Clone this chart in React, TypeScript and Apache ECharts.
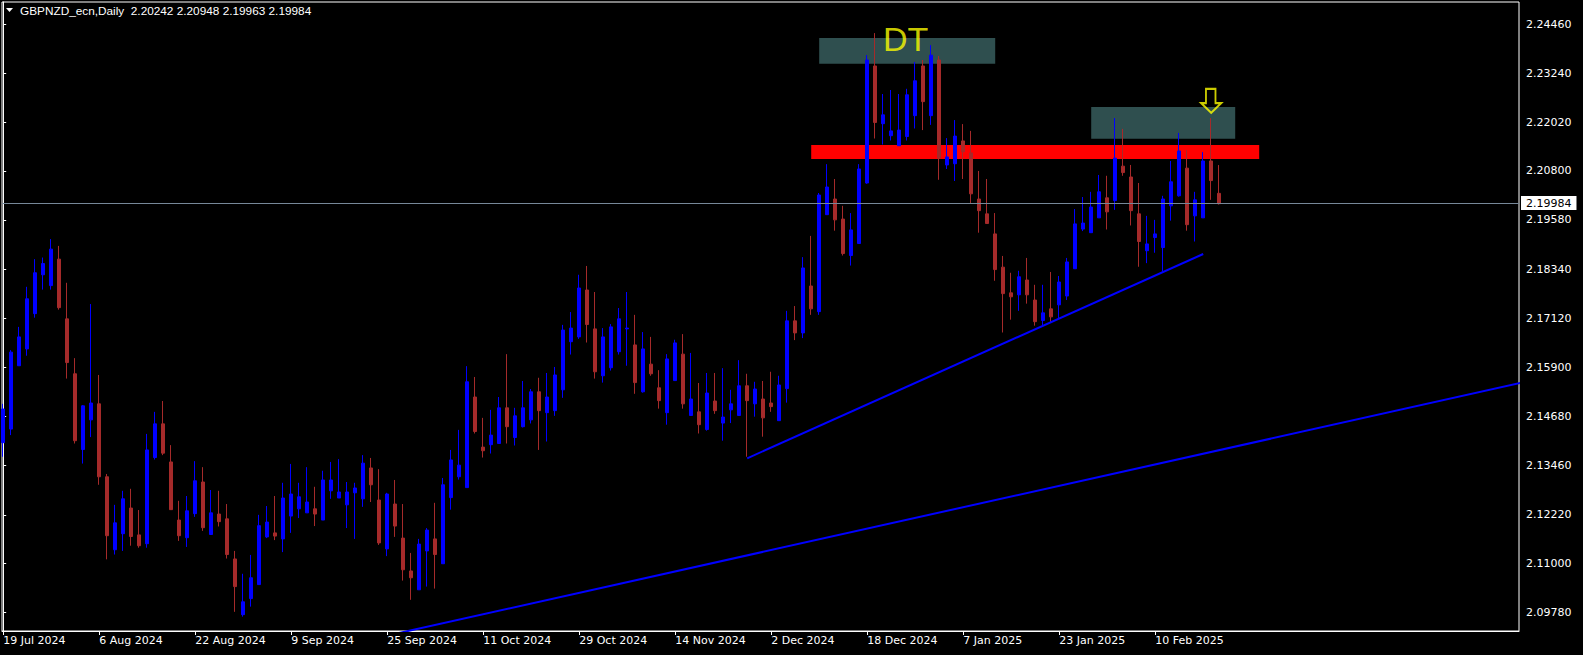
import React, { useEffect, useRef } from "react";
import * as echarts from "echarts";

const symbolTitle = "GBPNZD_ecn,Daily";
// last bar quote: open, high, low, close
const lastQuote = [2.20242, 2.20948, 2.19963, 2.19984];

const dateTickLabels = [
  "19 Jul 2024", "6 Aug 2024", "22 Aug 2024", "9 Sep 2024", "25 Sep 2024",
  "11 Oct 2024", "29 Oct 2024", "14 Nov 2024", "2 Dec 2024", "18 Dec 2024",
  "7 Jan 2025", "23 Jan 2025", "10 Feb 2025",
];
const barsPerDateTick = 12;

const priceTicks = [
  2.2446, 2.2324, 2.2202, 2.208, 2.1958, 2.1834, 2.1712,
  2.159, 2.1468, 2.1346, 2.1222, 2.11, 2.0978,
];

// daily bars: [open, close, low, high]
const ohlc: number[][] = [
  [2.1402, 2.1486, 2.1367, 2.1499], [2.1436, 2.1628, 2.1421, 2.1633], [2.1594, 2.1666, 2.1594, 2.1691],
  [2.1636, 2.1761, 2.1619, 2.1791], [2.1724, 2.1826, 2.1714, 2.1860], [2.1821, 2.1849, 2.1784, 2.1864],
  [2.1794, 2.1885, 2.1784, 2.1910], [2.1860, 2.1739, 2.1734, 2.1893], [2.1711, 2.1602, 2.1562, 2.1801],
  [2.1574, 2.1407, 2.1400, 2.1613], [2.1385, 2.1494, 2.1350, 2.1496], [2.1459, 2.1501, 2.1416, 2.1748],
  [2.1499, 2.1317, 2.1297, 2.1571], [2.1317, 2.1170, 2.1111, 2.1324], [2.1135, 2.1202, 2.1123, 2.1247],
  [2.1175, 2.1262, 2.1132, 2.1282], [2.1239, 2.1168, 2.1145, 2.1287], [2.1172, 2.1145, 2.1140, 2.1234],
  [2.1150, 2.1384, 2.1140, 2.1424], [2.1365, 2.1449, 2.1360, 2.1479], [2.1449, 2.1376, 2.1371, 2.1506],
  [2.1354, 2.1235, 2.1235, 2.1396], [2.1209, 2.1170, 2.1157, 2.1257], [2.1165, 2.1232, 2.1142, 2.1269],
  [2.1225, 2.1307, 2.1217, 2.1356], [2.1304, 2.1190, 2.1182, 2.1341], [2.1173, 2.1227, 2.1173, 2.1284],
  [2.1224, 2.1205, 2.1193, 2.1282], [2.1212, 2.1123, 2.1113, 2.1249], [2.1112, 2.1043, 2.0980, 2.1132],
  [2.0973, 2.1005, 2.0968, 2.1075], [2.1013, 2.1065, 2.0993, 2.1122], [2.1048, 2.1195, 2.1048, 2.1222],
  [2.1167, 2.1204, 2.1164, 2.1244], [2.1177, 2.1169, 2.1159, 2.1269], [2.1162, 2.1264, 2.1129, 2.1302],
  [2.1219, 2.1274, 2.1177, 2.1349], [2.1237, 2.1267, 2.1214, 2.1302], [2.1227, 2.1254, 2.1227, 2.1341],
  [2.1237, 2.1224, 2.1194, 2.1292], [2.1209, 2.1309, 2.1209, 2.1332], [2.1282, 2.1309, 2.1262, 2.1354],
  [2.1264, 2.1279, 2.1264, 2.1361], [2.1247, 2.1279, 2.1189, 2.1304], [2.1277, 2.1289, 2.1162, 2.1302],
  [2.1262, 2.1351, 2.1242, 2.1371], [2.1339, 2.1297, 2.1254, 2.1364], [2.1259, 2.1152, 2.1147, 2.1336],
  [2.1137, 2.1274, 2.1119, 2.1277], [2.1249, 2.1194, 2.1167, 2.1309], [2.1164, 2.1085, 2.1058, 2.1249],
  [2.1082, 2.1065, 2.1010, 2.1127], [2.1035, 2.1149, 2.1035, 2.1162], [2.1132, 2.1184, 2.1043, 2.1189],
  [2.1162, 2.1123, 2.1038, 2.1252], [2.1100, 2.1297, 2.1100, 2.1314], [2.1265, 2.1359, 2.1235, 2.1384],
  [2.1317, 2.1346, 2.1310, 2.1434], [2.1290, 2.1554, 2.1290, 2.1593], [2.1516, 2.1430, 2.1425, 2.1566],
  [2.1391, 2.1382, 2.1365, 2.1464], [2.1397, 2.1421, 2.1375, 2.1484], [2.1400, 2.1489, 2.1400, 2.1516],
  [2.1489, 2.1442, 2.1400, 2.1623], [2.1415, 2.1469, 2.1395, 2.1489], [2.1442, 2.1489, 2.1440, 2.1556],
  [2.1459, 2.1529, 2.1450, 2.1536], [2.1529, 2.1482, 2.1384, 2.1564], [2.1477, 2.1516, 2.1405, 2.1576],
  [2.1482, 2.1571, 2.1469, 2.1591], [2.1534, 2.1683, 2.1514, 2.1696], [2.1654, 2.1688, 2.1622, 2.1728],
  [2.1666, 2.1788, 2.1661, 2.1821], [2.1783, 2.1697, 2.1652, 2.1843], [2.1686, 2.1579, 2.1562, 2.1778],
  [2.1569, 2.1666, 2.1552, 2.1688], [2.1589, 2.1691, 2.1582, 2.1698], [2.1629, 2.1711, 2.1622, 2.1738],
  [2.1686, 2.1688, 2.1594, 2.1778], [2.1646, 2.1552, 2.1524, 2.1721], [2.1529, 2.1636, 2.1527, 2.1678],
  [2.1598, 2.1574, 2.1569, 2.1666], [2.1539, 2.1507, 2.1487, 2.1583], [2.1477, 2.1611, 2.1447, 2.1623],
  [2.1557, 2.1651, 2.1557, 2.1659], [2.1623, 2.1499, 2.1487, 2.1673], [2.1470, 2.1511, 2.1470, 2.1626],
  [2.1479, 2.1447, 2.1425, 2.1551], [2.1435, 2.1526, 2.1432, 2.1576], [2.1506, 2.1482, 2.1474, 2.1576],
  [2.1451, 2.1466, 2.1407, 2.1588], [2.1484, 2.1499, 2.1451, 2.1534], [2.1470, 2.1544, 2.1470, 2.1608],
  [2.1544, 2.1507, 2.1367, 2.1574], [2.1499, 2.1536, 2.1467, 2.1554], [2.1511, 2.1464, 2.1417, 2.1556],
  [2.1501, 2.1492, 2.1479, 2.1579], [2.1457, 2.1546, 2.1457, 2.1569], [2.1537, 2.1706, 2.1502, 2.1731],
  [2.1706, 2.1676, 2.1658, 2.1743], [2.1676, 2.1838, 2.1663, 2.1865], [2.1793, 2.1736, 2.1721, 2.1918],
  [2.1729, 2.2020, 2.1721, 2.2025], [2.1971, 2.2040, 2.1971, 2.2097], [2.2010, 2.1958, 2.1931, 2.2060],
  [2.1960, 2.1874, 2.1869, 2.1993], [2.1869, 2.1933, 2.1844, 2.1975], [2.1899, 2.2085, 2.1899, 2.2097],
  [2.2050, 2.2357, 2.2048, 2.2369], [2.2342, 2.2201, 2.2161, 2.2424], [2.2198, 2.2220, 2.2146, 2.2272],
  [2.2168, 2.2180, 2.2156, 2.2282], [2.2143, 2.2182, 2.2143, 2.2272], [2.2166, 2.2270, 2.2156, 2.2285],
  [2.2218, 2.2305, 2.2186, 2.2352], [2.2342, 2.2253, 2.2182, 2.2357], [2.2218, 2.2369, 2.2195, 2.2394],
  [2.2357, 2.2112, 2.2058, 2.2367], [2.2095, 2.2115, 2.2085, 2.2162], [2.2098, 2.2167, 2.2055, 2.2207],
  [2.2155, 2.2128, 2.2060, 2.2197], [2.2125, 2.2023, 2.2000, 2.2180], [2.2010, 2.1981, 2.1926, 2.2080],
  [2.1973, 2.1949, 2.1949, 2.2060], [2.1923, 2.1834, 2.1806, 2.1975], [2.1840, 2.1774, 2.1677, 2.1868],
  [2.1776, 2.1766, 2.1709, 2.1826], [2.1771, 2.1816, 2.1731, 2.1831], [2.1808, 2.1771, 2.1749, 2.1863],
  [2.1758, 2.1704, 2.1694, 2.1796], [2.1707, 2.1726, 2.1694, 2.1796], [2.1736, 2.1716, 2.1703, 2.1828],
  [2.1746, 2.1803, 2.1713, 2.1818], [2.1768, 2.1853, 2.1758, 2.1863], [2.1836, 2.1948, 2.1836, 2.1985],
  [2.1935, 2.1950, 2.1930, 2.2015], [2.1926, 2.1990, 2.1926, 2.2028], [2.1963, 2.2028, 2.1963, 2.2070],
  [2.2013, 2.1978, 2.1934, 2.2068], [2.2006, 2.2112, 2.1983, 2.2212], [2.2092, 2.2076, 2.2068, 2.2185],
  [2.2065, 2.1981, 2.1944, 2.2095], [2.1973, 2.1904, 2.1841, 2.2050], [2.1881, 2.1898, 2.1850, 2.1968],
  [2.1914, 2.1923, 2.1876, 2.1958], [2.1889, 2.2010, 2.1829, 2.2018], [2.1993, 2.2053, 2.1956, 2.2105],
  [2.2018, 2.2130, 2.2016, 2.2175], [2.2087, 2.1946, 2.1931, 2.2132], [2.1968, 2.2008, 2.1904, 2.2028],
  [2.1963, 2.2105, 2.1963, 2.2127], [2.2105, 2.2056, 2.2008, 2.2212], [2.20242, 2.19984, 2.19963, 2.20948],
];

// annotations: [barIndex, price]
const resistanceZone = [[101, 2.21449], [157, 2.21099]];
const doubleTopZone = [[102, 2.24118], [124, 2.23477]];
const retestZone = [[136, 2.22397], [154, 2.21606]];
const supportTrend = [[93, 2.13631], [150, 2.18729]];
const longTrend = [[45, 2.09073], [190, 2.15526]];
const dtLabelPoint = [112.8, 2.24093];
const arrowPoint = [151, 2.22551];

export default function App() {
  const ref = useRef<HTMLDivElement>(null);

  useEffect(() => {
    const el = ref.current;
    if (!el) return;
    const chart = echarts.init(el, undefined, { renderer: "svg" });
    const candleData = ohlc.map((d, i) => [i, d[0], d[1], d[2], d[3]]);
    const tickIdx = dateTickLabels.map((_, i) => i * barsPerDateTick);
    const axisFont = { color: "#ffffff", fontFamily: "DejaVu Sans", fontSize: 11 };
    const zoneItem = (z: number[][], color: string) => [
      { coord: z[0], itemStyle: { color, opacity: 1 } },
      { coord: z[1] },
    ];

    chart.setOption({
      animation: false,
      backgroundColor: "#000000",
      grid: {
        left: 2, right: 64, top: 2, bottom: 24,
        show: true, borderColor: "#ffffff", borderWidth: 1, backgroundColor: "#000000",
      },
      xAxis: {
        type: "value",
        min: -0.15,
        max: 189.475,
        axisLine: { show: true, lineStyle: { color: "#ffffff", width: 1 } },
        axisTick: { show: true, customValues: tickIdx, length: 4, lineStyle: { color: "#ffffff" } },
        axisLabel: {
          show: true,
          customValues: tickIdx,
          formatter: (v: number) => dateTickLabels[Math.round(v / barsPerDateTick)] ?? "",
          align: "left",
          margin: 4,
          ...axisFont,
        },
        splitLine: { show: false },
      },
      yAxis: {
        type: "value",
        position: "right",
        min: 2.09322,
        max: 2.25016,
        scale: true,
        axisLine: { show: true, lineStyle: { color: "#ffffff", width: 1 } },
        axisTick: { show: true, customValues: priceTicks, length: 3, lineStyle: { color: "#ffffff" } },
        axisLabel: {
          show: true,
          customValues: priceTicks,
          formatter: (v: number) => v.toFixed(5),
          margin: 7,
          ...axisFont,
        },
        splitLine: { show: false },
      },
      graphic: [
        {
          type: "polygon",
          shape: { points: [[6, 8], [13, 8], [9.5, 12]] },
          style: { fill: "#ffffff" },
        },
        {
          type: "text",
          left: 20,
          top: 5,
          style: {
            text: `${symbolTitle}  ${lastQuote.map((v) => v.toFixed(5)).join(" ")}`,
            fill: "#ffffff",
            font: "11.8px 'Liberation Sans'",
          },
        },
      ],
      series: [
        {
          type: "line",
          data: [],
          z: 1,
          silent: true,
          clip: false,
          markArea: {
            silent: true,
            data: [
              zoneItem(doubleTopZone, "#2F4F4F"),
              zoneItem(retestZone, "#2F4F4F"),
              zoneItem(resistanceZone, "#FF0000"),
            ],
          },
          markLine: {
            silent: true,
            symbol: ["none", "none"],
            data: [{ yAxis: lastQuote[3] }],
            lineStyle: { color: "#778899", width: 1, type: "solid" },
            label: {
              show: true,
              position: "end",
              distance: 2,
              formatter: lastQuote[3].toFixed(5),
              backgroundColor: "#ffffff",
              color: "#000000",
              padding: [1, 5, 1, 5],
              fontFamily: "DejaVu Sans",
              fontSize: 11,
              lineHeight: 12,
            },
          },
        },
        {
          type: "candlestick",
          data: candleData,
          z: 3,
          barWidth: 4,
          itemStyle: {
            color: "#0000FF",
            color0: "#A52A2A",
            borderColor: "#0000FF",
            borderColor0: "#A52A2A",
            borderWidth: 1,
          },
        },
        {
          type: "line",
          data: supportTrend,
          z: 4,
          symbol: "none",
          silent: true,
          lineStyle: { color: "#0000FF", width: 2 },
        },
        {
          type: "line",
          data: longTrend,
          z: 4,
          symbol: "none",
          silent: true,
          lineStyle: { color: "#0000FF", width: 2 },
        },
        {
          type: "scatter",
          data: [dtLabelPoint],
          z: 5,
          symbolSize: 1,
          silent: true,
          itemStyle: { color: "rgba(0,0,0,0)" },
          label: {
            show: true,
            position: "inside",
            formatter: "DT",
            color: "#FFFF00",
            fontFamily: "Liberation Sans",
            fontSize: 34,
          },
        },
        {
          type: "scatter",
          data: [arrowPoint],
          z: 5,
          silent: true,
          symbol: "path://M5,0 L15,0 L15,15 L21,15 L10.5,25 L0,15 L5,15 Z",
          symbolSize: [20, 24],
          itemStyle: { color: "rgba(0,0,0,0)", borderColor: "#FFFF00", borderWidth: 2 },
        },
      ],
    });

    return () => chart.dispose();
  }, []);

  return (
    <div
      ref={ref}
      style={{ position: "fixed", left: 0, top: 0, width: 1583, height: 655, background: "#000000" }}
    />
  );
}
